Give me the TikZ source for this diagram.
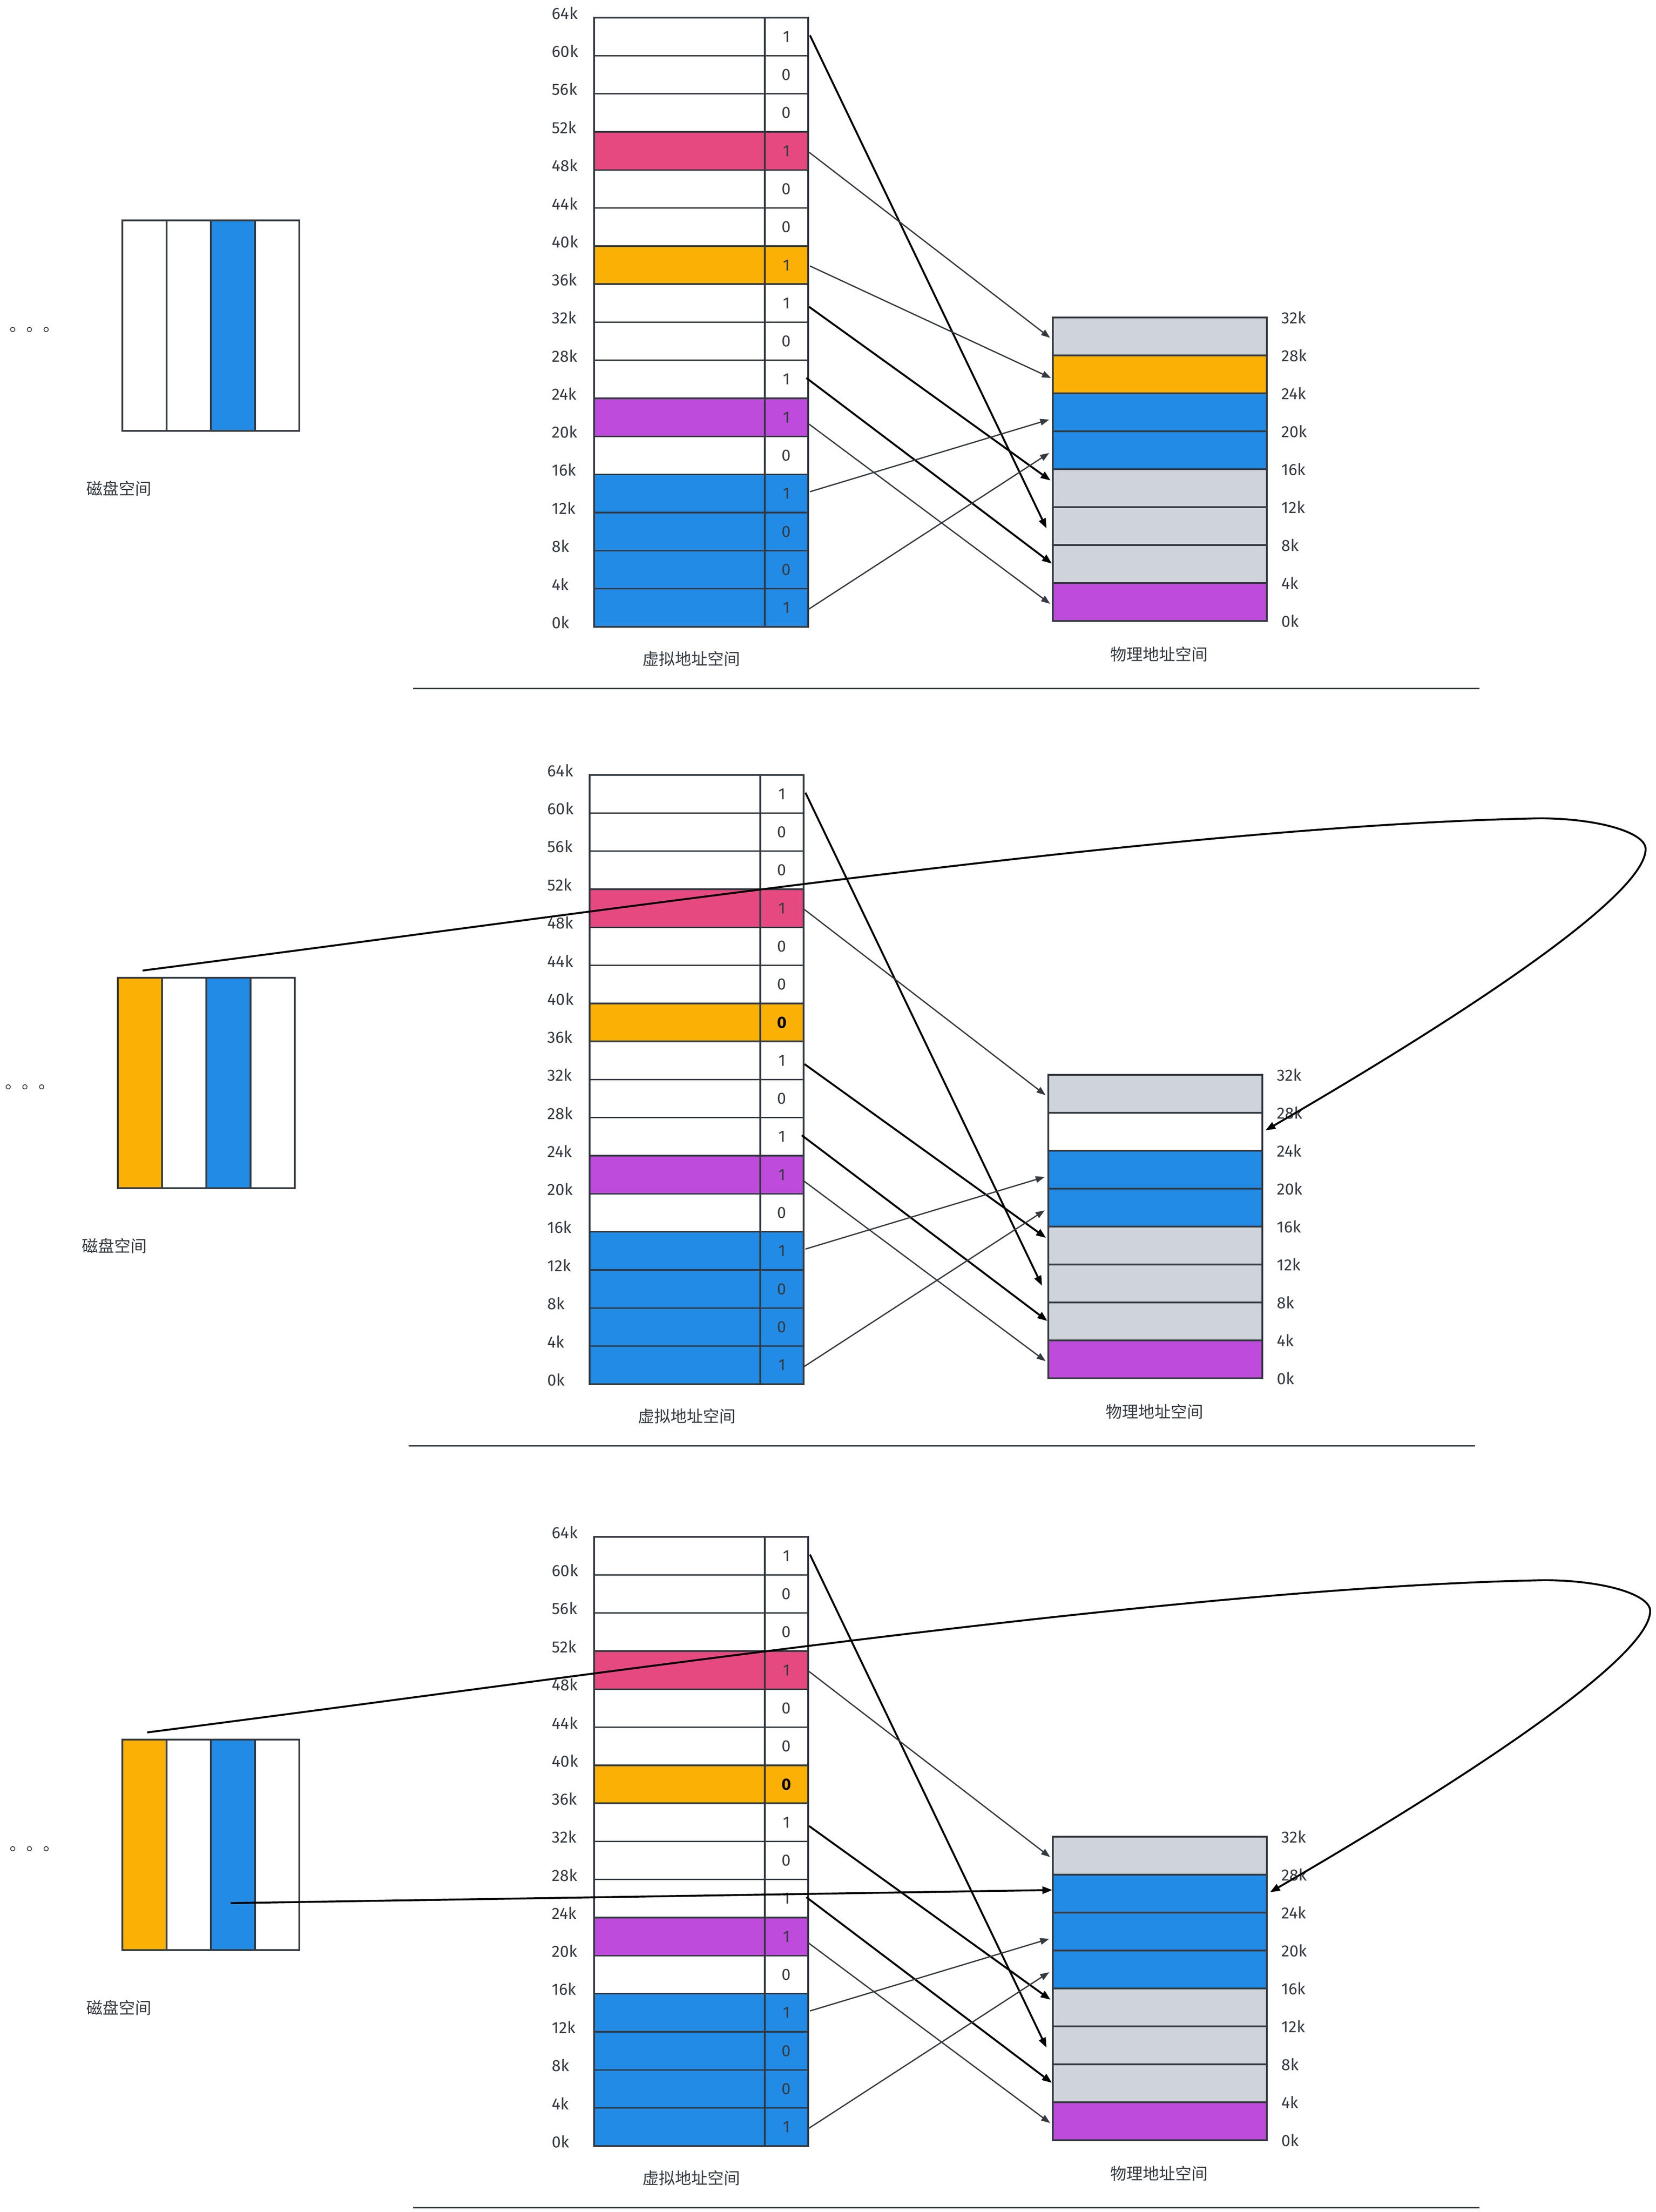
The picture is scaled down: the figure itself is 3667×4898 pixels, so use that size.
\documentclass[tikz,border=0pt]{standalone}
\usepackage{fontspec}
\setmainfont{Fira Sans}
\newfontfamily\cjk{Noto Sans CJK SC}
\usetikzlibrary{arrows.meta,calc}
\definecolor{dk}{HTML}{343A40}
\definecolor{pk}{HTML}{E64980}
\definecolor{og}{HTML}{FAB005}
\definecolor{bl}{HTML}{228BE6}
\definecolor{pu}{HTML}{BE4BDB}
\definecolor{gy}{HTML}{CED4DA}

% #1 prefix, #2 shift, #3 bit text of the orange row, #4 colour of disk column 0, #5 colour of physical row 1
\newcommand\drawpanel[5]{%
\begin{scope}[shift={#2}]
  \coordinate (#1o) at (0,0);
  % virtual address space
  \foreach \ii/\cc/\bv in {0/white/1,1/white/0,2/white/0,3/pk/1,4/white/0,5/white/0,6/og/{#3},7/white/1,8/white/0,9/white/1,10/pu/1,11/white/0,12/bl/1,13/bl/0,14/bl/0,15/bl/1} {
    \node[vleft, fill=\cc] (#1v\ii) at (1316,{39+84.3*\ii}) {};
    \node[vbit, fill=\cc] (#1b\ii) at (1694,{39+84.3*\ii}) {\bv};
  }
  \foreach \kv [count=\jj from 0] in {64,60,...,0} {
    \node[klab, anchor=west] (#1k\jj) at (1222,{39+84.3*\jj-10}) {\kv k};
  }
  % physical address space
  \foreach \rr/\cc in {0/gy,1/#5,2/bl,3/bl,4/gy,5/gy,6/gy,7/pu} {
    \node[prow, fill=\cc] (#1p\rr) at (2332,{703+84*\rr}) {};
  }
  \foreach \kv [count=\jj from 0] in {32,28,...,0} {
    \node[klab, anchor=west] (#1q\jj) at (2838,{703+84*\jj}) {\kv k};
  }
  % disk space
  \foreach \dd/\cc in {0/#4,1/white,2/bl,3/white} {
    \node[dcol, fill=\cc] (#1d\dd) at ({271+98*\dd},488) {};
  }
  \node[cjklab, font=\cjk\fontsize{9.25}{9.25}\selectfont, anchor=base west] (#1dots) at (21,733) {。。。};
  \node[cjklab] (#1dl) at (263,1082) {磁盘空间};
  \node[cjklab] (#1vl) at (1531,1459) {虚拟地址空间};
  \node[cjklab] (#1pl) at (2567,1449) {物理地址空间};
  \draw[sepline] (915,1524) -- (3277,1524);
\end{scope}
% page-table mappings
\draw[blackarrow] ($(#1b0.east)+(4,-3)$) -- ($(#1p5.west)+(-14,5)$);
\draw[grayarrow] ($(#1b3.east)+(2,3)$) -- ($(#1p0.west)+(-6,3)$);
\draw[blackarrow] ($(#1b7.east)+(2,8)$) -- ($(#1p4.west)+(-5,-17)$);
\draw[blackarrow] ($(#1b9.east)+(-4,-3)$) -- ($(#1p6.west)+(-2,-1)$);
\draw[grayarrow] ($(#1b10.east)+(-2,12)$) -- ($(#1p7.west)+(-6,4)$);
\draw[grayarrow] ($(#1b12.east)+(4,-4)$) -- ($(#1p2.west)+(-8,16)$);
\draw[grayarrow] ($(#1b15.east)+(0,4)$) -- ($(#1p3.west)+(-8,6)$);
}

\newcommand\swapcurve[1]{%
\draw[blackarrow] ($(#1d0.north)+(6,-16)$)
  .. controls ($(#1o)+(1327,344)$) and ($(#1o)+(2620,150)$) .. ($(#1o)+(3420,135)$)
  .. controls ($(#1o)+(3549,135)$) and ($(#1o)+(3655,166)$) .. ($(#1o)+(3655,203)$)
  .. controls ($(#1o)+(3655,310)$) and ($(#1o)+(3223,588)$) .. ($(#1p1.east)+(7,-3)$);
}

\begin{document}
\begin{tikzpicture}[x=0.25pt,y=-0.25pt,
  cellbox/.style={draw=dk, line width=0.85pt, inner sep=0pt, outer sep=0pt, anchor=north west, minimum height=21.075pt},
  vleft/.style={cellbox, minimum width=94.5pt},
  vbit/.style={cellbox, minimum width=24pt, font=\fontsize{9}{9}\selectfont, text=dk},
  prow/.style={cellbox, minimum width=118.5pt, minimum height=21pt},
  dcol/.style={cellbox, minimum width=24.5pt, minimum height=116.5pt},
  klab/.style={font=\fontsize{9}{9}\selectfont, text=dk, inner sep=0pt},
  cjklab/.style={font=\cjk\fontsize{9}{9}\selectfont, text=dk, inner sep=0pt},
  grayarrow/.style={draw=dk, line width=0.7pt, -{Triangle[length=5pt,width=3.6pt]}},
  blackarrow/.style={draw=black, line width=1.05pt, -{Triangle[length=5.5pt,width=4pt]}},
  sepline/.style={draw=dk, line width=0.75pt},
]
\useasboundingbox (0,0) rectangle (3667,4898);
\fill[white] (0,0) rectangle (3667,4898);

% panel 1
\drawpanel{a}{(0,0)}{1}{white}{og}
\draw[grayarrow] ($(ab6.east)+(4,2)$) -- ($(ap1.west)+(-4,8)$);

% panel 2
\drawpanel{b}{(-10,1677)}{{\color{black}\bfseries 0}}{og}{white}
\swapcurve{b}

% panel 3
\drawpanel{c}{(0,3364)}{{\color{black}\bfseries 0}}{og}{bl}
\swapcurve{c}
\draw[blackarrow] ($(cd2.center)+(-5,129)$) -- ($(cp1.west)+(-1,-8)$);
\end{tikzpicture}
\end{document}
